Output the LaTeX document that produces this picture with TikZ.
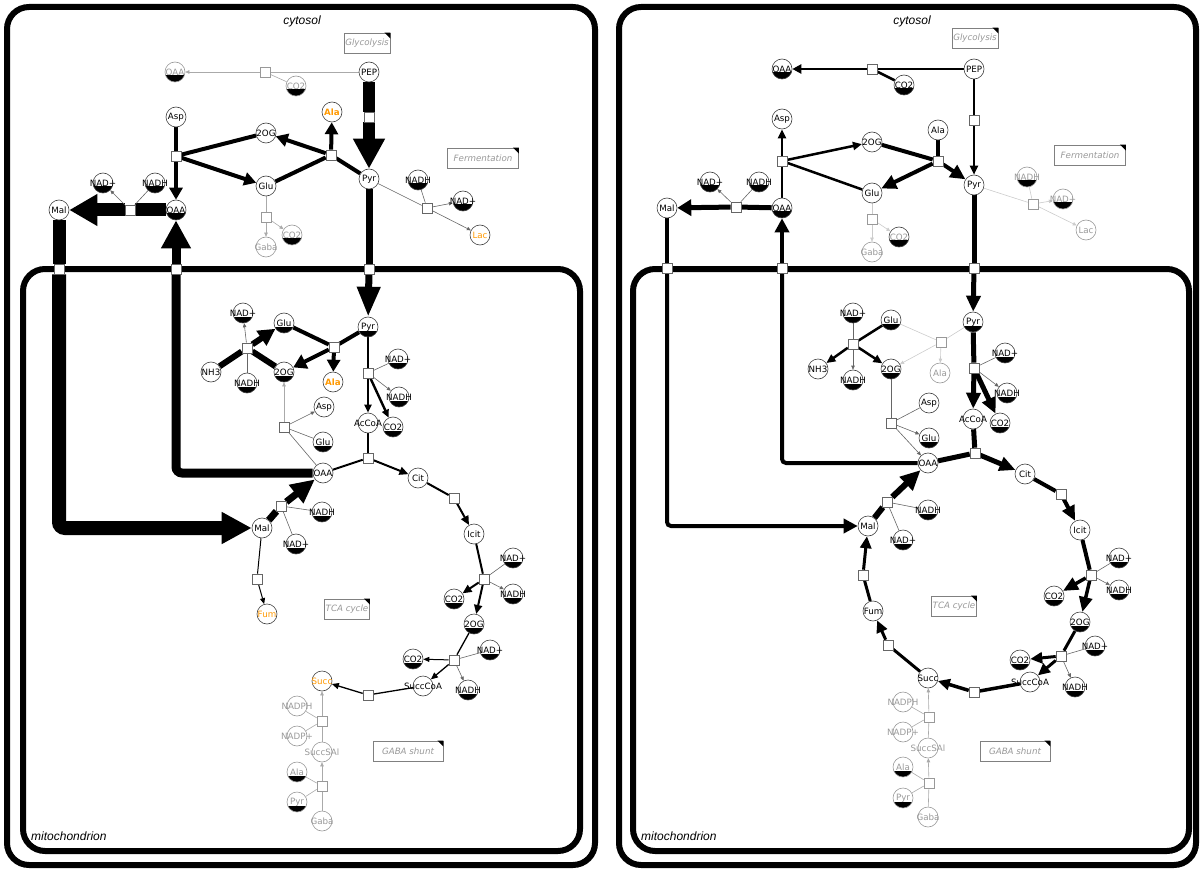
\documentclass[tikz,border=0pt]{standalone}
\usepackage{fontspec}
\setmainfont{DejaVu Sans}
\newfontfamily\labf{Liberation Sans}
\usetikzlibrary{arrows.meta,calc}
\pgfdeclarelayer{bg}
\pgfsetlayers{bg,main}
\definecolor{og}{HTML}{FF9900}
\definecolor{gt}{HTML}{999999}
\definecolor{glc}{HTML}{AAAAAA}
\definecolor{vlc}{HTML}{CCCCCC}
\definecolor{gmc}{HTML}{666666}
\tikzset{
 met/.style={circle,draw=black!75,fill=white,minimum size=20pt,inner sep=0pt,line width=0.6pt},
 hb/.style={path picture={\fill[black] (path picture bounding box.south west) rectangle ([yshift=-3.5pt]path picture bounding box.east);}},
 gy/.style={draw=black!40},
 lbl/.style={font=\fontsize{8.7}{8.7}\selectfont,inner sep=0pt},
 gtx/.style={text=gt},
 otx/.style={text=og},
 obx/.style={text=og,font=\fontsize{8.7}{8.7}\selectfont\bfseries},
 rsq/.style={rectangle,draw=black!60,fill=white,minimum size=10pt,inner sep=0pt,line width=0.6pt},
 ln/.style={line width=#1pt,draw=black},
 tp/.style 2 args={-{Triangle[length=#1pt,width=#2pt]}},
 sm/.style={-{Triangle[length=4pt,width=3.5pt]}},
 thn/.style={line width=0.6pt,draw=gmc},
 lg/.style={line width=0.6pt,draw=glc},
 vl/.style={line width=0.6pt,draw=vlc},
 notebox/.style={draw=black!50,fill=white,line width=0.8pt,minimum height=20pt,inner sep=0pt,text=gt,font=\fontsize{8.7}{8.7}\selectfont\itshape},
 comp/.style={line width=6pt,rounded corners=22pt},
 cmpl/.style={font=\labf\itshape\fontsize{12}{12}\selectfont,inner sep=0pt},
}
\newcommand\Met[5]{\node[met,#4] (#1) at (#2) {}; \node[lbl,#5] at (#1) {#3};}
\newcommand\RxSq[3]{\node[rsq,#3] (#1) at (#2) {};}
\newcommand\NoteBox[4]{\node[notebox,minimum width=#3pt] (#1) at (#2) {#4};
 \fill[black] ([xshift=-6pt]#1.north east) -- (#1.north east) -- ([yshift=-6pt]#1.north east) -- cycle;}
\begin{document}
\begin{tikzpicture}[x=1pt,y=-1pt]
\useasboundingbox (0,0) rectangle (1202,869);
% ---------- LEFT: cytosol ----------
\Met{LOAAt}{175,72}{OAA}{gy,hb}{gtx}
\RxSq{LsqPO}{265,72}{gy}
\Met{LCO2t}{296,86}{CO2}{gy,hb}{gtx}
\Met{LPEP}{369,72}{PEP}{}{}
\RxSq{LsqPP}{369,117}{}
\Met{LAsp}{176,117}{Asp}{}{}
\Met{L2OG}{266,133}{2OG}{}{}
\Met{LAla}{332,112}{Ala}{}{obx}
\RxSq{LsqA}{176,156}{}
\RxSq{LsqB}{331,155}{}
\Met{LPyr}{369,179}{Pyr}{}{}
\Met{LGlu}{266,186}{Glu}{}{}
\Met{LMal}{59,210}{Mal}{}{}
\Met{LNADp}{103,183}{NAD+}{hb}{}
\Met{LNADH}{155,183}{NADH}{hb}{}
\RxSq{LsqM}{130,210}{}
\Met{LOAA}{176,210}{OAA}{hb}{}
\RxSq{LsqG}{266,217}{gy}
\Met{LGaba}{266,247}{Gaba}{gy}{gtx}
\Met{LCO2g}{292,235}{CO2}{gy,hb}{gtx}
\Met{LNADHf}{418,180}{NADH}{hb}{}
\Met{LNADpf}{463,201}{NAD+}{hb}{}
\RxSq{LsqF}{427,208}{}
\Met{LLac}{480,235}{Lac}{}{otx}
\RxSq{Lm1}{59,269}{}
\RxSq{Lm2}{176,269}{}
\RxSq{Lm3}{369,269}{}
% ---------- LEFT: mitochondrion ----------
\Met{LmNADp}{243,313}{NAD+}{hb}{}
\Met{LmGlu}{284,323}{Glu}{hb}{}
\Met{LmPyr}{368,327}{Pyr}{hb}{}
\RxSq{Lq1}{247,348}{}
\RxSq{Lq2}{334,347}{}
\Met{LNH3}{211,372}{NH3}{}{}
\Met{LmNADH}{247,383}{NADH}{hb}{}
\Met{Lm2OG}{284,372}{2OG}{hb}{}
\Met{LmAla}{333,382}{Ala}{}{obx}
\Met{LmNADp2}{398,359}{NAD+}{hb}{}
\RxSq{Lq3}{368,373}{}
\Met{LmNADH2}{399,397}{NADH}{hb}{}
\Met{LmAsp}{324,407}{Asp}{}{}
\RxSq{Lq4}{284,427}{}
\Met{LAcCoA}{368,423}{AcCoA}{}{}
\Met{LmCO2}{393,427}{CO2}{hb}{}
\Met{LmGlu2}{323,442}{Glu}{hb}{}
\RxSq{Lq5}{368,458}{}
\Met{LmOAA}{323,473}{OAA}{}{}
\Met{LCit}{418,478}{Cit}{}{}
\RxSq{Lq6}{454,498}{}
\Met{LIcit}{474,534}{Icit}{}{}
\Met{LNADp3}{513,558}{NAD+}{hb}{}
\RxSq{Lq7}{484,579}{}
\Met{LNADH3}{513,594}{NADH}{hb}{}
\Met{LCO2c}{454,599}{CO2}{hb}{}
\Met{L2OGb}{474,624}{2OG}{hb}{}
\Met{LNADp4}{490,650}{NAD+}{hb}{}
\RxSq{Lq8}{454,660}{}
\Met{LCO2d}{413,659}{CO2}{hb}{}
\Met{LSuccCoA}{423,686}{SuccCoA}{}{}
\Met{LNADH4}{468,690}{NADH}{hb}{}
\RxSq{Lq9}{368,695}{}
\Met{LSucc}{322,681}{Succ}{}{otx}
\Met{LNADPH}{297,706}{NADPH}{gy}{gtx}
\RxSq{Lq10}{322,721}{gy}
\Met{LNADPp}{297,736}{NADP+}{gy}{gtx}
\Met{LSuccSAl}{322,752}{SuccSAl}{gy}{gtx}
\Met{LgAla}{297,772}{Ala}{gy,hb}{gtx}
\RxSq{Lq11}{322,786}{gy}
\Met{LgPyr}{297,802}{Pyr}{gy,hb}{gtx}
\Met{LgGaba}{322,821}{Gaba}{gy}{gtx}
\Met{LmMal}{262,528}{Mal}{}{}
\RxSq{Lq12}{281,506}{}
\Met{LmNADH5}{322,512}{NADH}{hb}{}
\Met{LmNADp5}{296,544}{NAD+}{hb}{}
\RxSq{Lq13}{257,579}{}
\Met{LFum}{267,614}{Fum}{}{otx}
% ---------- RIGHT: cytosol ----------
\Met{ROAAt}{782,69}{OAA}{hb}{}
\RxSq{RsqPO}{872,69}{}
\Met{RCO2t}{904,85}{CO2}{hb}{}
\Met{RPEP}{974,69}{PEP}{}{}
\RxSq{RsqPP}{974,120}{}
\Met{RAsp}{782,119}{Asp}{}{}
\Met{R2OG}{872,142}{2OG}{}{}
\Met{RAla}{938,130}{Ala}{}{}
\RxSq{RsqA}{782,161}{}
\RxSq{RsqB}{938,161}{}
\Met{RPyr}{974,185}{Pyr}{}{}
\Met{RGlu}{872,193}{Glu}{}{}
\Met{RMal}{667,208}{Mal}{}{}
\Met{RNADp}{710,182}{NAD+}{hb}{}
\Met{RNADH}{759,182}{NADH}{hb}{}
\RxSq{RsqM}{736,207}{}
\Met{ROAA}{782,208}{OAA}{hb}{}
\RxSq{RsqG}{872,219}{gy}
\Met{RGaba}{872,252}{Gaba}{gy}{gtx}
\Met{RCO2g}{899,237}{CO2}{hb}{gtx}
\Met{RNADHf}{1027,177}{NADH}{gy,hb}{gtx}
\Met{RNADpf}{1063,199}{NAD+}{gy,hb}{gtx}
\RxSq{RsqF}{1033,204}{gy}
\Met{RLac}{1086,230}{Lac}{gy}{gtx}
\RxSq{Rm1}{667,268}{}
\RxSq{Rm2}{782,268}{}
\RxSq{Rm3}{974,268}{}
% ---------- RIGHT: mitochondrion ----------
\Met{RmNADp}{853,313}{NAD+}{hb}{}
\Met{RmGlu}{891,320}{Glu}{hb}{}
\Met{RmPyr}{973,322}{Pyr}{hb}{}
\RxSq{Rq1}{853,344}{}
\RxSq{Rq2}{941,342}{gy}
\Met{RNH3}{818,369}{NH3}{}{}
\Met{RmNADH}{853,380}{NADH}{hb}{}
\Met{Rm2OG}{891,369}{2OG}{hb}{}
\Met{RmAla}{940,373}{Ala}{gy}{gtx}
\Met{RmNADp2}{1005,353}{NAD+}{hb}{}
\RxSq{Rq3}{974,368}{}
\Met{RmNADH2}{1007,393}{NADH}{hb}{}
\Met{RmAsp}{929,403}{Asp}{}{}
\RxSq{Rq4}{891,423}{}
\Met{RAcCoA}{973,419}{AcCoA}{}{}
\Met{RmCO2}{1000,423}{CO2}{hb}{}
\Met{RmGlu2}{929,438}{Glu}{hb}{}
\RxSq{Rq5}{975,453}{}
\Met{RmOAA}{928,463}{OAA}{}{}
\Met{RCit}{1025,474}{Cit}{}{}
\RxSq{Rq6}{1061,494}{}
\Met{RIcit}{1080,530}{Icit}{}{}
\Met{RNADp3}{1119,558}{NAD+}{hb}{}
\RxSq{Rq7}{1091,575}{}
\Met{RNADH3}{1119,590}{NADH}{hb}{}
\Met{RCO2c}{1054,596}{CO2}{hb}{}
\Met{R2OGb}{1080,622}{2OG}{hb}{}
\Met{RNADp4}{1095,646}{NAD+}{hb}{}
\RxSq{Rq8}{1061,656}{}
\Met{RCO2d}{1020,660}{CO2}{hb}{}
\Met{RSuccCoA}{1030,682}{SuccCoA}{}{}
\Met{RNADH4}{1075,687}{NADH}{hb}{}
\RxSq{Rq9}{974,692}{}
\Met{RSucc}{928,678}{Succ}{}{}
\RxSq{Rq14}{888,645}{}
\Met{RFum}{873,611}{Fum}{}{}
\RxSq{Rq13}{863,575}{}
\Met{RmMal}{868,526}{Mal}{}{}
\RxSq{Rq12}{887,502}{}
\Met{RmNADH5}{928,510}{NADH}{hb}{}
\Met{RmNADp5}{903,540}{NAD+}{hb}{}
\Met{RNADPH}{903,702}{NADPH}{gy}{gtx}
\RxSq{Rq10}{929,717}{gy}
\Met{RNADPp}{903,732}{NADP+}{gy}{gtx}
\Met{RSuccSAl}{928,748}{SuccSAl}{gy}{gtx}
\Met{RgAla}{903,767}{Ala}{gy,hb}{gtx}
\RxSq{Rq11}{929,783}{gy}
\Met{RgPyr}{903,798}{Pyr}{gy,hb}{gtx}
\Met{RgGaba}{928,817}{Gaba}{gy}{gtx}
% ---------- notes and labels ----------
\NoteBox{LGly}{367,43}{46}{Glycolysis}
\NoteBox{LFer}{483,158}{71}{Fermentation}
\NoteBox{LTCA}{347,609}{45}{TCA cycle}
\NoteBox{LGAB}{408,751}{70}{GABA shunt}
\NoteBox{RGly}{975,38}{46}{Glycolysis}
\NoteBox{RFer}{1090,155}{71}{Fermentation}
\NoteBox{RTCA}{954,606}{45}{TCA cycle}
\NoteBox{RGAB}{1015,751}{70}{GABA shunt}
\node[cmpl] (cytL) at (302,21) {cytosol};
\node[cmpl] (cytR) at (912,21) {cytosol};
\node[cmpl,anchor=west] (mitL) at (31,836) {mitochondrion};
\node[cmpl,anchor=west] (mitR) at (641,836) {mitochondrion};
\begin{pgfonlayer}{bg}
\draw[comp] (7,7) rectangle (595,865);
\draw[comp] (23,269) rectangle (580,851);
\draw[comp] (619,7) rectangle (1196,865);
\draw[comp] (633,269) rectangle (1189,851);
% ----- left edges -----
\draw[lg] (LPEP) -- (LsqPO); \draw[lg,sm] (LsqPO) -- (LOAAt); \draw[lg] (LsqPO) -- (LCO2t);
\draw[ln=12] (LPEP) -- (LsqPP); \draw[ln=12,tp={30}{30}] (LsqPP) -- (LPyr);
\draw[ln=4] (LAsp) -- (LsqA); \draw[ln=4] (LsqA) -- (L2OG);
\draw[ln=4,tp={12}{13}] (LsqA) -- (LOAA); \draw[ln=4,tp={12}{13}] (LsqA) -- (LGlu);
\draw[ln=4] (LPyr) -- (LsqB); \draw[ln=4] (LGlu) -- (LsqB);
\draw[ln=4,tp={12}{13}] (LsqB) -- (L2OG); \draw[ln=4,tp={12}{13}] (LsqB) -- (LAla);
\draw[thn] (LPyr) -- (LsqF); \draw[thn] (LNADHf) -- (LsqF); \draw[thn,sm] (LsqF) -- (LNADpf); \draw[thn,sm] (LsqF) -- (LLac);
\draw[lg] (LGlu) -- (LsqG); \draw[lg,sm] (LsqG) -- (LGaba); \draw[lg,sm] (LsqG) -- (LCO2g);
\draw[ln=13] (LOAA) -- (LsqM); \draw[ln=13,tp={28}{30}] (LsqM) -- (LMal);
\draw[thn] (LNADH) -- (LsqM); \draw[thn,sm] (LsqM) -- (LNADp);
\draw[ln=13] (LMal) -- (Lm1); \draw[ln=14,tp={30}{30},rounded corners=6pt] (Lm1) |- (LmMal);
\draw[ln=9,rounded corners=6pt] (LmOAA) -| (Lm2); \draw[ln=9,tp={28}{28}] (Lm2) -- (LOAA);
\draw[ln=7] (LPyr) -- (Lm3); \draw[ln=7,tp={30}{22}] (Lm3) -- (LmPyr);
\draw[ln=6] (LNH3) -- (Lq1); \draw[ln=6] (Lm2OG) -- (Lq1); \draw[ln=6,tp={17}{17}] (Lq1) -- (LmGlu);
\draw[thn] (LmNADH) -- (Lq1); \draw[thn,sm] (Lq1) -- (LmNADp);
\draw[ln=4] (LmPyr) -- (Lq2); \draw[ln=4] (LmGlu) -- (Lq2);
\draw[ln=4,tp={13}{15}] (Lq2) -- (Lm2OG); \draw[ln=4,tp={12}{13}] (Lq2) -- (LmAla);
\draw[ln=1.8] (LmPyr) -- (Lq3); \draw[ln=1.8,tp={8}{7}] (Lq3) -- (LAcCoA); \draw[ln=2.4,tp={8}{7}] (Lq3) -- (LmCO2);
\draw[thn] (LmNADp2) -- (Lq3); \draw[thn,sm] (Lq3) -- (LmNADH2);
\draw[thn] (LmOAA) -- (Lq4); \draw[thn] (LmGlu2) -- (Lq4); \draw[thn,sm] (Lq4) -- (LmAsp); \draw[lg,sm] (Lq4) -- (Lm2OG);
\draw[ln=2] (LAcCoA) -- (Lq5); \draw[ln=2] (LmOAA) -- (Lq5); \draw[ln=2,tp={9}{8}] (Lq5) -- (LCit);
\draw[ln=2] (LCit) -- (Lq6); \draw[ln=2,tp={9}{8}] (Lq6) -- (LIcit);
\draw[ln=2] (LIcit) -- (Lq7); \draw[thn] (LNADp3) -- (Lq7);
\draw[ln=2,tp={9}{8}] (Lq7) -- (L2OGb); \draw[ln=2,tp={9}{8}] (Lq7) -- (LCO2c); \draw[thn,sm] (Lq7) -- (LNADH3);
\draw[ln=1.3] (L2OGb) -- (Lq8); \draw[thn] (LNADp4) -- (Lq8);
\draw[ln=1.3,tp={7}{6}] (Lq8) -- (LSuccCoA); \draw[ln=1,tp={6}{5}] (Lq8) -- (LCO2d); \draw[thn,sm] (Lq8) -- (LNADH4);
\draw[ln=1.3] (LSuccCoA) -- (Lq9); \draw[ln=1.3,tp={7}{6}] (Lq9) -- (LSucc);
\draw[ln=7] (LmMal) -- (Lq12); \draw[ln=7,tp={24}{22}] (Lq12) -- (LmOAA);
\draw[thn] (LmNADp5) -- (Lq12); \draw[thn] (Lq12) -- (LmNADH5);
\draw[ln=1] (LmMal) -- (Lq13); \draw[ln=1,tp={6}{5}] (Lq13) -- (LFum);
\draw[lg] (LgGaba) -- (Lq11); \draw[lg] (LgPyr) -- (Lq11); \draw[lg,sm] (Lq11) -- (LSuccSAl); \draw[lg] (Lq11) -- (LgAla);
\draw[lg] (LSuccSAl) -- (Lq10); \draw[lg] (LNADPp) -- (Lq10); \draw[lg,sm] (Lq10) -- (LSucc); \draw[lg] (Lq10) -- (LNADPH);
% ----- right edges -----
\draw[ln=2.5] (RPEP) -- (RsqPO); \draw[ln=2.5,tp={9}{9}] (RsqPO) -- (ROAAt); \draw[ln=2.5] (RsqPO) -- (RCO2t);
\draw[ln=2] (RPEP) -- (RsqPP); \draw[ln=2,tp={9}{8}] (RsqPP) -- (RPyr);
\draw[ln=2.5] (ROAA) -- (RsqA); \draw[ln=2.5] (RGlu) -- (RsqA);
\draw[ln=2.5,tp={9}{8}] (RsqA) -- (RAsp); \draw[ln=2.5,tp={9}{8}] (RsqA) -- (R2OG);
\draw[ln=4] (RAla) -- (RsqB); \draw[ln=4] (R2OG) -- (RsqB);
\draw[ln=4,tp={15}{14}] (RsqB) -- (RPyr); \draw[ln=4,tp={15}{14}] (RsqB) -- (RGlu);
\draw[vl] (RPyr) -- (RsqF); \draw[vl] (RNADHf) -- (RsqF); \draw[vl,sm] (RsqF) -- (RNADpf); \draw[vl,sm] (RsqF) -- (RLac);
\draw[vl] (RGlu) -- (RsqG); \draw[vl,sm] (RsqG) -- (RGaba); \draw[vl,sm] (RsqG) -- (RCO2g);
\draw[ln=5] (ROAA) -- (RsqM); \draw[ln=5,tp={14}{16}] (RsqM) -- (RMal);
\draw[thn] (RNADH) -- (RsqM); \draw[thn,sm] (RsqM) -- (RNADp);
\draw[ln=4] (RMal) -- (Rm1); \draw[ln=4,tp={14}{14},rounded corners=4pt] (Rm1) |- (RmMal);
\draw[ln=4,rounded corners=4pt] (RmOAA) -| (Rm2); \draw[ln=4,tp={14}{14}] (Rm2) -- (ROAA);
\draw[ln=5] (RPyr) -- (Rm3); \draw[ln=5,tp={16}{14}] (Rm3) -- (RmPyr);
\draw[ln=2.5] (RmGlu) -- (Rq1); \draw[ln=2.5,tp={9}{8}] (Rq1) -- (RNH3); \draw[ln=2.5,tp={9}{8}] (Rq1) -- (Rm2OG);
\draw[thn] (RmNADp) -- (Rq1); \draw[thn,sm] (Rq1) -- (RmNADH);
\draw[vl] (RmGlu) -- (Rq2); \draw[vl] (RmPyr) -- (Rq2); \draw[vl,sm] (Rq2) -- (Rm2OG); \draw[vl,sm] (Rq2) -- (RmAla);
\draw[ln=5] (RmPyr) -- (Rq3); \draw[ln=5,tp={16}{14}] (Rq3) -- (RAcCoA); \draw[ln=5,tp={16}{14}] (Rq3) -- (RmCO2);
\draw[thn] (RmNADp2) -- (Rq3); \draw[thn,sm] (Rq3) -- (RmNADH2);
\draw[thn] (Rm2OG) -- (Rq4); \draw[thn] (RmAsp) -- (Rq4); \draw[thn,sm] (Rq4) -- (RmGlu2); \draw[thn,sm] (Rq4) -- (RmOAA);
\draw[ln=5] (RAcCoA) -- (Rq5); \draw[ln=5] (RmOAA) -- (Rq5); \draw[ln=5,tp={16}{14}] (Rq5) -- (RCit);
\draw[ln=4] (RCit) -- (Rq6); \draw[ln=4,tp={15}{13}] (Rq6) -- (RIcit);
\draw[ln=4] (RIcit) -- (Rq7); \draw[thn] (RNADp3) -- (Rq7);
\draw[ln=3.5,tp={15}{13}] (Rq7) -- (R2OGb); \draw[ln=3.5,tp={15}{13}] (Rq7) -- (RCO2c); \draw[thn,sm] (Rq7) -- (RNADH3);
\draw[ln=3] (R2OGb) -- (Rq8); \draw[thn] (RNADp4) -- (Rq8);
\draw[ln=3,tp={12}{11}] (Rq8) -- (RSuccCoA); \draw[ln=3,tp={12}{11}] (Rq8) -- (RCO2d); \draw[thn,sm] (Rq8) -- (RNADH4);
\draw[ln=3.5] (RSuccCoA) -- (Rq9); \draw[ln=3.5,tp={12}{11}] (Rq9) -- (RSucc);
\draw[ln=3] (RSucc) -- (Rq14); \draw[ln=3,tp={12}{11}] (Rq14) -- (RFum);
\draw[ln=3] (RFum) -- (Rq13); \draw[ln=3,tp={12}{11}] (Rq13) -- (RmMal);
\draw[ln=6] (RmMal) -- (Rq12); \draw[ln=6,tp={20}{18}] (Rq12) -- (RmOAA);
\draw[thn] (RmNADp5) -- (Rq12); \draw[thn] (Rq12) -- (RmNADH5);
\draw[lg] (RgGaba) -- (Rq11); \draw[lg] (RgPyr) -- (Rq11); \draw[lg,sm] (Rq11) -- (RSuccSAl); \draw[lg] (Rq11) -- (RgAla);
\draw[lg] (RSuccSAl) -- (Rq10); \draw[lg] (RNADPp) -- (Rq10); \draw[lg,sm] (Rq10) -- (RSucc); \draw[lg] (Rq10) -- (RNADPH);
\end{pgfonlayer}
\end{tikzpicture}
\end{document}
